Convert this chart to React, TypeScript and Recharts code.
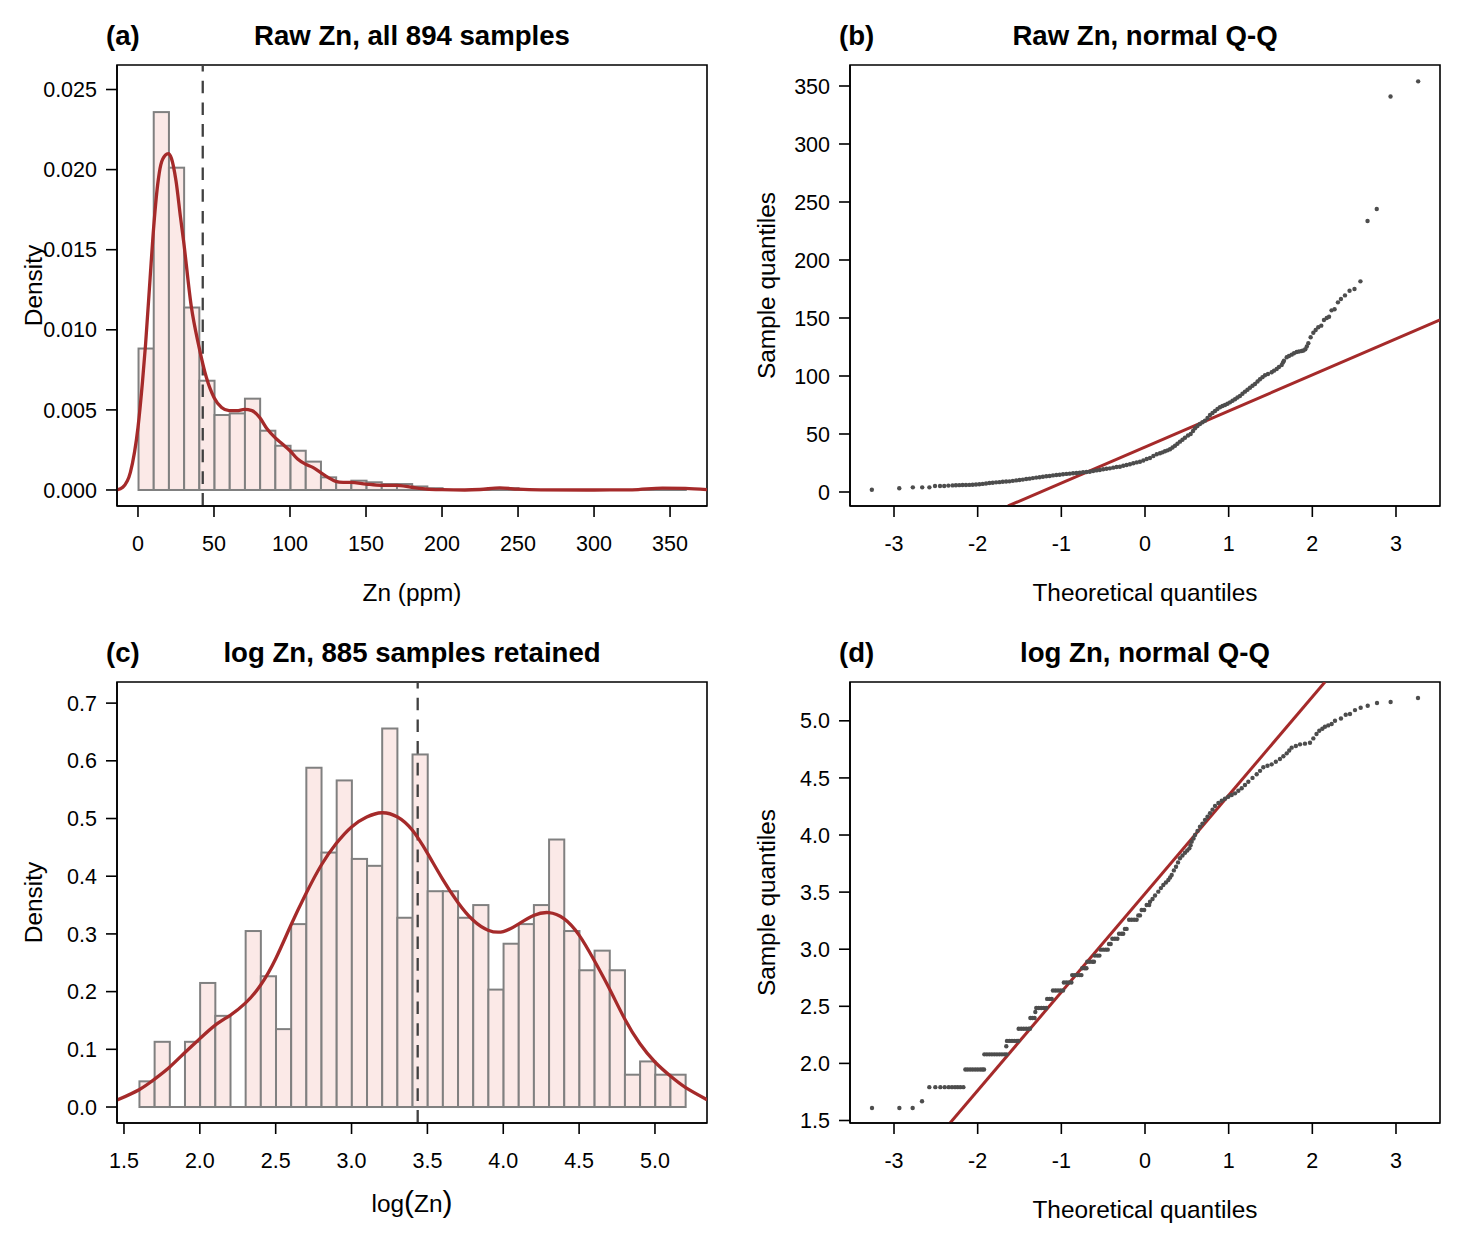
import React from 'react';
import { ComposedChart, Bar, Line, Scatter, XAxis, YAxis, ReferenceLine, ReferenceArea } from 'recharts';

const FONT = '"Liberation Sans", Arial, sans-serif';
const RED = '#a52a2a';
const DOT = '#4d4d4d';

// histogram bin mids and heights
const rawBinMid = [5, 15, 25, 35, 45, 55, 65, 75, 85, 95, 105, 115, 125, 135, 145, 155, 165, 175, 185, 195, 235, 245, 345, 355];
const rawBinHeight = [0.00883, 0.02359, 0.02012, 0.01139, 0.00682, 0.00468, 0.00478, 0.0057, 0.0037, 0.00276, 0.00245, 0.00177, 0.00079, 0.00048, 0.00058, 0.00048, 0.00037, 0.00037, 0.00022, 0.00011, 0.00011, 0.00011, 0.00011, 0.00011];

const logBinMid = [1.65, 1.75, 1.95, 2.05, 2.15, 2.35, 2.45, 2.55, 2.65, 2.75, 2.85, 2.95, 3.05, 3.15, 3.25, 3.35, 3.45, 3.55, 3.65, 3.75, 3.85, 3.95, 4.05, 4.15, 4.25, 4.35, 4.45, 4.55, 4.65, 4.75, 4.85, 4.95, 5.05, 5.15];
const logBinHeight = [0.0445, 0.113, 0.113, 0.215, 0.158, 0.305, 0.2266, 0.135, 0.317, 0.588, 0.441, 0.566, 0.43, 0.418, 0.656, 0.328, 0.611, 0.374, 0.374, 0.328, 0.35, 0.2035, 0.283, 0.317, 0.35, 0.4636, 0.305, 0.237, 0.271, 0.237, 0.056, 0.079, 0.056, 0.056];

// density curves
const rawDensX = [-13.8, -10, -5, 0, 3, 5, 8, 10, 13, 15, 18, 20, 22, 25, 28, 30, 35, 40, 45, 50, 55, 60, 65, 70, 75, 80, 85, 90, 95, 100, 105, 110, 115, 120, 125, 130, 135, 140, 150, 160, 170, 180, 190, 200, 215, 225, 238, 250, 265, 300, 325, 345, 360, 374.3];
const rawDensY = [0, 0.00017, 0.0011, 0.0039, 0.0068, 0.0091, 0.01326, 0.016, 0.0191, 0.0203, 0.0209, 0.021, 0.0207, 0.0193, 0.017, 0.01554, 0.0115, 0.009, 0.00702, 0.00578, 0.00515, 0.00495, 0.00495, 0.00503, 0.00495, 0.00453, 0.0038, 0.00328, 0.00287, 0.00245, 0.00193, 0.00162, 0.00141, 0.0011, 0.00079, 0.00054, 0.00048, 0.00048, 0.00037, 0.00029, 0.00029, 0.00017, 0.00006, 0.00002, 0, 0.00003, 0.00013, 0.00005, 0.00001, 0, 0.00001, 0.00012, 0.0001, 0.00002];

const logDensX = [1.455, 1.6, 1.7, 1.8, 1.9, 2.0, 2.1, 2.2, 2.3, 2.4, 2.5, 2.6, 2.7, 2.8, 2.9, 3.0, 3.1, 3.2, 3.3, 3.4, 3.5, 3.6, 3.7, 3.8, 3.9, 4.0, 4.1, 4.2, 4.3, 4.4, 4.5, 4.6, 4.7, 4.8, 4.9, 5.0, 5.1, 5.2, 5.343];
const logDensY = [0.012, 0.03, 0.048, 0.069, 0.094, 0.1185, 0.1416, 0.159, 0.18, 0.211, 0.257, 0.315, 0.37, 0.419, 0.457, 0.4855, 0.5025, 0.51, 0.503, 0.48, 0.44, 0.395, 0.355, 0.324, 0.3065, 0.304, 0.317, 0.332, 0.337, 0.3266, 0.298, 0.254, 0.205, 0.153, 0.11, 0.078, 0.054, 0.034, 0.0127];

// Q-Q points, raw Zn
const rawQqX = [-3.265, -2.937, -2.775, -2.663, -2.577, -2.51, -2.45, -2.4, -2.35,
  -2.3, -2.26, -2.22, -2.18, -2.14, -2.1, -2.06, -2.02, -1.98, -1.94, -1.9, -1.86, -1.82, -1.78, -1.74, -1.7, -1.66, -1.62, -1.58, -1.54, -1.5, -1.46, -1.42, -1.38, -1.34, -1.3, -1.26, -1.22, -1.18, -1.14, -1.1, -1.06, -1.02, -0.98, -0.94, -0.9, -0.86, -0.82, -0.78, -0.74, -0.7, -0.66, -0.62, -0.58, -0.54, -0.5, -0.46, -0.42, -0.38, -0.34, -0.3, -0.26, -0.22, -0.18, -0.14, -0.1, -0.06, -0.02, 0.02, 0.06, 0.1, 0.14, 0.179,
  0.209, 0.239, 0.269, 0.299, 0.329, 0.359, 0.388, 0.418, 0.448, 0.478, 0.514, 0.546, 0.574, 0.598, 0.627, 0.657, 0.687, 0.717, 0.747, 0.777, 0.807, 0.837, 0.866, 0.896, 0.926, 0.956, 0.986, 1.016, 1.046, 1.076, 1.105, 1.135, 1.165, 1.195, 1.225, 1.255, 1.285, 1.315, 1.345, 1.374, 1.404, 1.434, 1.47, 1.514, 1.542, 1.574, 1.601, 1.634, 1.649, 1.661, 1.694, 1.721, 1.753, 1.781, 1.813, 1.841, 1.873, 1.894, 1.916, 1.934, 1.952, 1.98, 2.012, 2.04, 2.071, 2.107, 2.139, 2.172, 2.2, 2.23, 2.266, 2.306, 2.342, 2.39, 2.445, 2.504, 2.575, 2.66, 2.77, 2.935, 3.265];
const rawQqY = [2, 3.2, 4, 4, 4, 5.2, 5.2, 5.2, 5.5,
  5.7, 5.8, 5.9, 6, 6, 6.1, 6.2, 6.5, 6.7, 7, 7.3, 7.7, 8, 8.3, 8.5, 8.8, 9.1, 9.2, 9.6, 10, 10.3, 10.7, 11.2, 11.5, 12, 12.4, 12.7, 13.2, 13.6, 13.8, 14.3, 14.7, 14.9, 15.3, 15.6, 15.8, 16.2, 16.4, 16.6, 17, 17.3, 17.5, 18.1, 18.6, 19, 19.6, 20.1, 20.4, 21, 21.5, 21.8, 22.6, 23.3, 23.9, 24.8, 25.5, 26.1, 27.2, 28.5, 29.3, 31, 32.5, 33.4,
  34.2, 35.1, 35.9, 36.8, 38.4, 39.9, 41.6, 43.4, 45.1, 46.8, 48.7, 50, 52.6, 54.9, 56.9, 58.6, 60.1, 61.5, 63.8, 66.4, 68.1, 69.8, 71.6, 73, 74.1, 75, 76.1, 77.3, 78.6, 79.9, 81.4, 82.8, 84.7, 86.5, 88.2, 89.9, 91.6, 93.1, 95.2, 97.2, 99, 100.6, 101.7, 103.2, 104.6, 106, 107.8, 109.5, 111.6, 113.2, 116.1, 117.2, 118.4, 119.6, 120.7, 121.1, 121.6, 122, 123, 125.4, 128.2, 133.4, 137.3, 139.7, 142, 143.4, 148.3, 150, 151.1, 156.6, 157.5, 163.5, 166.4, 169.5, 173.5, 175, 181.6, 233.6, 244, 341, 354];

// Q-Q points, log Zn: long flat runs come from the rounded ppm values
const logQqX = [-3.263, -2.936, -2.777, -2.665, -2.578, -2.506, -2.446, -2.394, -2.346, -2.307, -2.271, -2.239, -2.207, -2.171,
  -2.147, -2.12, -2.09, -2.06, -2.03, -2, -1.97, -1.945, -1.924,
  -1.92, -1.89, -1.86, -1.83, -1.8, -1.77, -1.74, -1.71, -1.68, -1.655, -1.658,
  -1.65, -1.62, -1.59, -1.56, -1.53, -1.515,
  -1.51, -1.48, -1.45, -1.42, -1.39, -1.375,
  -1.37, -1.345, -1.32, -1.311,
  -1.3, -1.27, -1.24, -1.21, -1.18,
  -1.17, -1.14, -1.115,
  -1.1, -1.07, -1.04, -1.01, -0.98,
  -0.97, -0.94, -0.91, -0.88,
  -0.87, -0.84, -0.81, -0.78, -0.76,
  -0.75, -0.72, -0.7,
  -0.69, -0.66, -0.63, -0.61,
  -0.6, -0.57, -0.545,
  -0.53, -0.5, -0.47, -0.445,
  -0.43, -0.41,
  -0.39, -0.36, -0.33,
  -0.31, -0.28, -0.26,
  -0.24, -0.22,
  -0.19, -0.16, -0.13, -0.1,
  -0.08, -0.06, -0.04, -0.01, 0.02, 0.05,
  0.06, 0.09, 0.12, 0.159, 0.19, 0.219, 0.25, 0.279, 0.3, 0.319, 0.345, 0.371, 0.395, 0.418, 0.448, 0.478, 0.505, 0.53, 0.545, 0.558, 0.58, 0.598, 0.628, 0.657, 0.687, 0.717, 0.747, 0.777, 0.807, 0.837, 0.877, 0.917, 0.956, 0.996, 1.036, 1.076, 1.116, 1.156, 1.195, 1.235, 1.285, 1.335, 1.375, 1.414, 1.464, 1.514, 1.564, 1.613, 1.654, 1.694, 1.724, 1.753, 1.803, 1.853, 1.912, 1.972, 2.012, 2.05, 2.083, 2.12, 2.151, 2.19, 2.231, 2.271, 2.342, 2.399, 2.45, 2.51, 2.578, 2.662, 2.773, 2.936, 3.263];
const logQqY = [1.609, 1.609, 1.609, 1.668, 1.792, 1.792, 1.792, 1.792, 1.792, 1.792, 1.792, 1.792, 1.792, 1.792,
  1.946, 1.946, 1.946, 1.946, 1.946, 1.946, 1.946, 1.946, 1.946,
  2.079, 2.079, 2.079, 2.079, 2.079, 2.079, 2.079, 2.079, 2.079, 2.079, 2.15,
  2.197, 2.197, 2.197, 2.197, 2.197, 2.197,
  2.303, 2.303, 2.303, 2.303, 2.303, 2.303,
  2.398, 2.398, 2.398, 2.45,
  2.485, 2.485, 2.485, 2.485, 2.485,
  2.565, 2.565, 2.565,
  2.639, 2.639, 2.639, 2.639, 2.639,
  2.708, 2.708, 2.708, 2.708,
  2.773, 2.773, 2.773, 2.773, 2.773,
  2.833, 2.833, 2.833,
  2.89, 2.89, 2.89, 2.89,
  2.944, 2.944, 2.944,
  2.996, 2.996, 2.996, 2.996,
  3.045, 3.045,
  3.091, 3.091, 3.091,
  3.135, 3.135, 3.135,
  3.178, 3.178,
  3.258, 3.258, 3.258, 3.258,
  3.296, 3.296, 3.343, 3.343, 3.387, 3.387,
  3.416, 3.44, 3.47, 3.504, 3.535, 3.562, 3.584, 3.606, 3.628, 3.65, 3.69, 3.722, 3.76, 3.796, 3.82, 3.845, 3.865, 3.883, 3.91, 3.942, 3.97, 4, 4.036, 4.073, 4.1, 4.131, 4.16, 4.19, 4.222, 4.254, 4.28, 4.3, 4.318, 4.335, 4.35, 4.365, 4.387, 4.409, 4.438, 4.467, 4.5, 4.532, 4.562, 4.593, 4.607, 4.619, 4.642, 4.666, 4.69, 4.715, 4.74, 4.765, 4.78, 4.794, 4.8, 4.808, 4.846, 4.885, 4.913, 4.93, 4.948, 4.96, 4.972, 5, 5.021, 5.053, 5.06, 5.094, 5.115, 5.132, 5.156, 5.165, 5.2];

// reference lines of the Q-Q panels
const rawFitX = [-1.637, 3.526];
const rawFitY = [-12.07, 148.3];
const logFitX = [-2.33, 2.151];
const logFitY = [1.478, 5.34];

const rawTicksX = [0, 50, 100, 150, 200, 250, 300, 350];
const rawTicksY = [0, 0.005, 0.01, 0.015, 0.02, 0.025];
const logTicksX = [1.5, 2, 2.5, 3, 3.5, 4, 4.5, 5];
const logTicksY = [0, 0.1, 0.2, 0.3, 0.4, 0.5, 0.6, 0.7];
const qqTicksX = [-3, -2, -1, 0, 1, 2, 3];
const rawQqTicksY = [0, 50, 100, 150, 200, 250, 300, 350];
const logQqTicksY = [1.5, 2, 2.5, 3, 3.5, 4, 4.5, 5];

const rawMedian = 42.6;
const logMedian = 3.436;

const zip = (xs: number[], ys: number[]) => xs.map((x, i) => ({ x, y: ys[i] }));

const PANEL_W = 733;
const PANEL_H = 617;
const LEFT = 117;
const RIGHT = 26;
const TOP = 65;
const BOTTOM = 111;
const CX = LEFT + (PANEL_W - LEFT - RIGHT) / 2;
const CY = TOP + (PANEL_H - TOP - BOTTOM) / 2;
const BIN_PX = 15.2;

const Dot = (p: any) => <circle cx={p.cx} cy={p.cy} r={2.2} fill={DOT} />;

// recharts narrows bars on a number axis, so widen each one around its centre
const HistBar = (p: any) => (
  <rect x={p.x + p.width / 2 - BIN_PX / 2 + 0.7} y={p.y} width={BIN_PX} height={p.height} fill="#fbe9e7" stroke="#808080" strokeWidth={2} />
);

function Panel({ left, top, tag, title, yTitle, xTitle, xDomain, yDomain, xTicks, yTicks, xFmt, yFmt, data, children }: any) {
  return (
    <div style={{ position: 'absolute', left, top, width: PANEL_W, height: PANEL_H }}>
      <ComposedChart width={PANEL_W} height={PANEL_H} data={data} margin={{ top: TOP, right: RIGHT, bottom: 0, left: 0 }} barGap={0}>
        <XAxis
          type="number" dataKey="x" domain={xDomain} ticks={xTicks} allowDataOverflow interval={0}
          height={BOTTOM} tickSize={11} tickMargin={19} tickFormatter={xFmt}
          axisLine={{ stroke: '#000', strokeWidth: 1.6 }} tickLine={{ stroke: '#000', strokeWidth: 1.6 }}
          tick={{ fill: '#000', fontSize: 21.5, fontFamily: FONT }}
        />
        <YAxis
          type="number" dataKey="y" domain={yDomain} ticks={yTicks} allowDataOverflow interval={0}
          width={LEFT} tickSize={11} tickMargin={9} tickFormatter={yFmt}
          axisLine={{ stroke: '#000', strokeWidth: 1.6 }} tickLine={{ stroke: '#000', strokeWidth: 1.6 }}
          tick={{ fill: '#000', fontSize: 21.5, fontFamily: FONT }}
        />
        {children}
        <ReferenceArea x1={xDomain[0]} x2={xDomain[1]} y1={yDomain[0]} y2={yDomain[1]} fill="none" stroke="#000" strokeWidth={1.6} />
        <text x={106} y={45} fontFamily={FONT} fontSize={27.6} fontWeight="bold" fill="#000">{tag}</text>
        <text x={CX} y={45} textAnchor="middle" fontFamily={FONT} fontSize={27.6} fontWeight="bold" fill="#000">{title}</text>
        <text x={34} y={CY + 8} textAnchor="middle" transform={`rotate(-90 34 ${CY})`} fontFamily={FONT} fontSize={24.4} fill="#000">{yTitle}</text>
        {xTitle}
      </ComposedChart>
    </div>
  );
}

const xLabel = (s: string) => <text x={CX} y={601} textAnchor="middle" fontFamily={FONT} fontSize={24.4} fill="#000">{s}</text>;
const logLabel = (
  <text x={CX} y={595} textAnchor="middle" fontFamily={FONT} fontSize={24.4} fill="#000">
    log<tspan fontSize={30}>(</tspan>Zn<tspan fontSize={30}>)</tspan>
  </text>
);

const histBars = <Bar dataKey="y" barSize={BIN_PX} shape={HistBar} isAnimationActive={false} />;

export default function App() {
  return (
    <div style={{ position: 'absolute', left: 0, top: 0, width: 1466, height: 1234, background: '#fff' }}>
      <Panel left={0} top={0} tag="(a)" title="Raw Zn, all 894 samples" yTitle="Density" xTitle={xLabel('Zn (ppm)')}
        xDomain={[-13.8, 374.3]} yDomain={[-0.001, 0.02653]} xTicks={rawTicksX} yTicks={rawTicksY}
        yFmt={(v: number) => v.toFixed(3)} data={zip(rawBinMid, rawBinHeight)}>
        <ReferenceLine segment={[{ x: 0, y: 0 }, { x: 360, y: 0 }]} stroke="#808080" strokeWidth={2} />
        {histBars}
        <ReferenceLine x={rawMedian} stroke="#404040" strokeWidth={2.3} strokeDasharray="12.6 9.1" strokeDashoffset={-0.4} />
        <Line data={zip(rawDensX, rawDensY)} dataKey="y" type="monotone" stroke={RED} strokeWidth={3.3} dot={false} isAnimationActive={false} />
      </Panel>

      <Panel left={733} top={0} tag="(b)" title="Raw Zn, normal Q-Q" yTitle="Sample quantiles" xTitle={xLabel('Theoretical quantiles')}
        xDomain={[-3.526, 3.526]} yDomain={[-12.07, 368.1]} xTicks={qqTicksX} yTicks={rawQqTicksY}>
        <Scatter data={zip(rawQqX, rawQqY)} dataKey="y" shape={Dot} isAnimationActive={false} />
        <Line data={zip(rawFitX, rawFitY)} dataKey="y" type="linear" stroke={RED} strokeWidth={3} dot={false} isAnimationActive={false} />
      </Panel>

      <Panel left={0} top={617} tag="(c)" title="log Zn, 885 samples retained" yTitle="Density" xTitle={logLabel}
        xDomain={[1.454, 5.343]} yDomain={[-0.0277, 0.7366]} xTicks={logTicksX} yTicks={logTicksY}
        xFmt={(v: number) => v.toFixed(1)} yFmt={(v: number) => v.toFixed(1)} data={zip(logBinMid, logBinHeight)}>
        <ReferenceLine segment={[{ x: 1.6, y: 0 }, { x: 5.2, y: 0 }]} stroke="#808080" strokeWidth={2} />
        {histBars}
        <ReferenceLine x={logMedian} stroke="#404040" strokeWidth={2.3} strokeDasharray="12.6 9.1" strokeDashoffset={-0.4} />
        <Line data={zip(logDensX, logDensY)} dataKey="y" type="natural" stroke={RED} strokeWidth={3.3} dot={false} isAnimationActive={false} />
      </Panel>

      <Panel left={733} top={617} tag="(d)" title="log Zn, normal Q-Q" yTitle="Sample quantiles" xTitle={xLabel('Theoretical quantiles')}
        xDomain={[-3.526, 3.526]} yDomain={[1.478, 5.34]} xTicks={qqTicksX} yTicks={logQqTicksY}
        yFmt={(v: number) => v.toFixed(1)}>
        <Scatter data={zip(logQqX, logQqY)} dataKey="y" shape={Dot} isAnimationActive={false} />
        <Line data={zip(logFitX, logFitY)} dataKey="y" type="linear" stroke={RED} strokeWidth={3} dot={false} isAnimationActive={false} />
      </Panel>
    </div>
  );
}
